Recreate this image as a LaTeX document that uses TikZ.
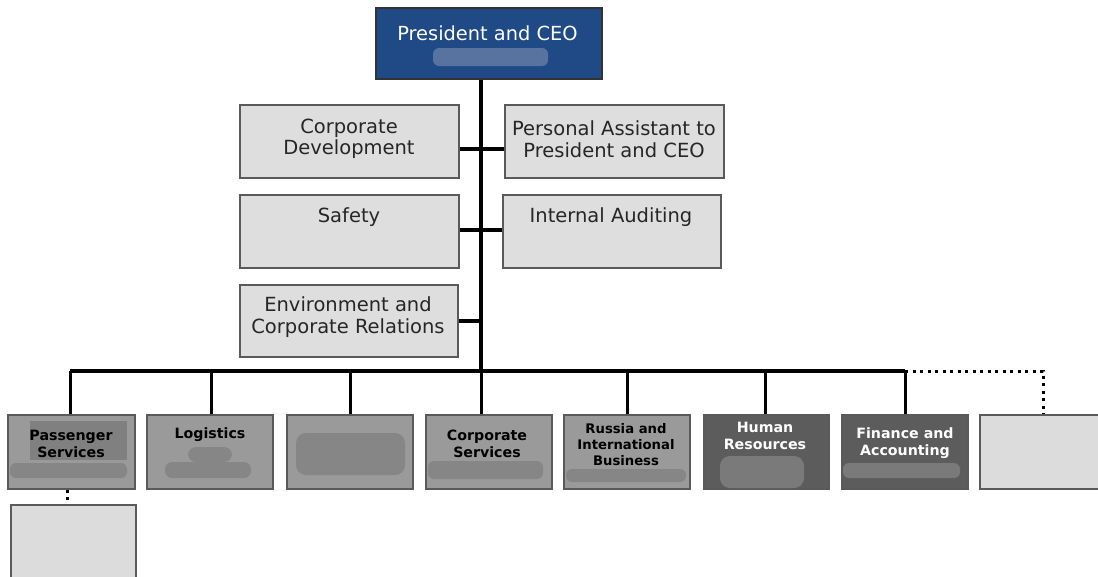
\documentclass[tikz,border=0pt]{standalone}
\usepackage{fontspec}
\setmainfont{DejaVu Sans}
\definecolor{ceoblue}{HTML}{1F4A85}
\definecolor{ceosmear}{HTML}{5873A0}
\definecolor{upfill}{HTML}{DEDEDE}
\definecolor{upline}{HTML}{5A5A5A}
\definecolor{midgray}{HTML}{9A9A9A}
\definecolor{midsmear}{HTML}{868686}
\definecolor{darkgray}{HTML}{5C5C5C}
\definecolor{darksmear}{HTML}{7A7A7A}
\definecolor{lightbox}{HTML}{DCDCDC}
\tikzset{
  box/.style={draw=upline, line width=1.2pt, inner sep=0pt, rectangle},
  upbox/.style={box, fill=upfill},
  midbox/.style={box, fill=midgray, draw=#1},
  midbox/.default={upline},
  darkbox/.style={box, fill=darkgray, draw=upline},
  lbox/.style={box, fill=lightbox},
  uptext/.style={font=\fontsize{19.5}{21.5}\selectfont, text=black!85, align=center, inner sep=0pt},
  bottext/.style={font=\fontsize{14.2}{17}\selectfont\bfseries, text=black, align=center, inner sep=0pt},
  wtext/.style={bottext, text=white},
  conn/.style={line width=3.6pt},
  vconn/.style={line width=3pt},
  dotconn/.style={line width=3pt, dash pattern=on 3pt off 4.5pt},
}
\begin{document}
\begin{tikzpicture}[x=1pt,y=-1pt]
\useasboundingbox (0,0) rectangle (1098,576);
% top
\node[box, fill=ceoblue, draw=black!80, minimum width=226pt, minimum height=71pt] (ceo) at (489,43.5) {};
\fill[ceosmear, rounded corners=6pt] (433,48) rectangle (548,66);
\node[font=\fontsize{19.4}{20}\selectfont, text=white, inner sep=0pt] (ceot) at (487.5,33) {President and CEO};
% staff boxes
\node[upbox, minimum width=219pt, minimum height=73pt] (cd) at (349.5,141.5) {};
\node[upbox, minimum width=219pt, minimum height=73pt] (pa) at (614.5,141.5) {};
\node[upbox, minimum width=219pt, minimum height=73pt] (sf) at (349.5,231.5) {};
\node[upbox, minimum width=218pt, minimum height=73pt] (ia) at (612,231.5) {};
\node[upbox, minimum width=218pt, minimum height=72pt] (en) at (349,321) {};
\node[uptext] (cdt) at (349,139) {Corporate\\Development};
\node[uptext] (pat) at (614,139) {Personal Assistant to\\President and CEO};
\node[uptext] (sft) at (349,217) {Safety};
\node[uptext] (iat) at (611,217) {Internal Auditing};
\node[uptext] (ent) at (348,317) {Environment and\\Corporate Relations};
% bottom boxes
\node[midbox, minimum width=127pt, minimum height=74pt] (ps) at (71.5,452) {};
\node[midbox, minimum width=126pt, minimum height=74pt] (lg) at (210,452) {};
\node[midbox, minimum width=126pt, minimum height=74pt] (b3) at (350,452) {};
\node[midbox, minimum width=126pt, minimum height=74pt] (cs) at (489,452) {};
\node[midbox, minimum width=126pt, minimum height=74pt] (ru) at (627,452) {};
\node[darkbox, minimum width=125pt, minimum height=74pt] (hr) at (766.5,452) {};
\node[darkbox, minimum width=126pt, minimum height=74pt] (fa) at (905,452) {};
\node[lbox, minimum width=122pt, minimum height=74pt] (lb) at (1041,452) {};
\node[lbox, minimum width=125pt, minimum height=78pt] (sb) at (73.5,544) {};
% smears
\fill[black!50] (30,421) rectangle (127,460);
\fill[midsmear, rounded corners=6pt] (10,463) rectangle (127,478);
\fill[midsmear, rounded corners=8pt] (188,447) rectangle (232,462);
\fill[midsmear, rounded corners=7pt] (165,462) rectangle (251,478);
\fill[midsmear, rounded corners=10pt] (296,433) rectangle (405,475);
\fill[midsmear, rounded corners=6pt] (428,461) rectangle (543,479);
\fill[midsmear, rounded corners=6pt] (566,469) rectangle (686,482);
\fill[darksmear, rounded corners=10pt] (720,456) rectangle (804,488);
\fill[darksmear, rounded corners=6pt] (843,463) rectangle (960,478);
% bottom texts
\node[bottext] (pst) at (71,443.5) {Passenger\\Services};
\node[bottext] (lgt) at (210,435) {Logistics};
\node[bottext] (cst) at (487,444) {Corporate\\Services};
\node[bottext, font=\fontsize{13.2}{16}\selectfont\bfseries] (rut) at (626,445) {Russia and\\International\\Business};
\node[wtext] (hrt) at (765,435.5) {Human\\Resources};
\node[wtext] (fat) at (905,443.5) {Finance and\\Accounting};
% connectors
\coordinate (bus) at (481,371);
\coordinate (busend) at (1043,371);
\draw[conn] (ceo.south -| bus) -- (bus);
\draw[conn] (cd.east |- 0,149) -- (pa.west |- 0,149);
\draw[conn] (sf.east |- 0,230) -- (ia.west |- 0,230);
\draw[conn] (en.east |- 0,321) -- (bus |- 0,321);
\draw[conn] (70,371) -- (905,371);
\draw[dotconn] (905,371) -- (busend) -- (lb.north -| busend);
\foreach \n/\x in {ps/70, lg/211, b3/350, cs/481, ru/627, hr/765, fa/905}
  \draw[vconn] (\x,371) -- (\n.north -| \x,0);
\draw[dotconn] (ps.south -| 67,0) -- (sb.north -| 67,0);
\end{tikzpicture}
\end{document}
